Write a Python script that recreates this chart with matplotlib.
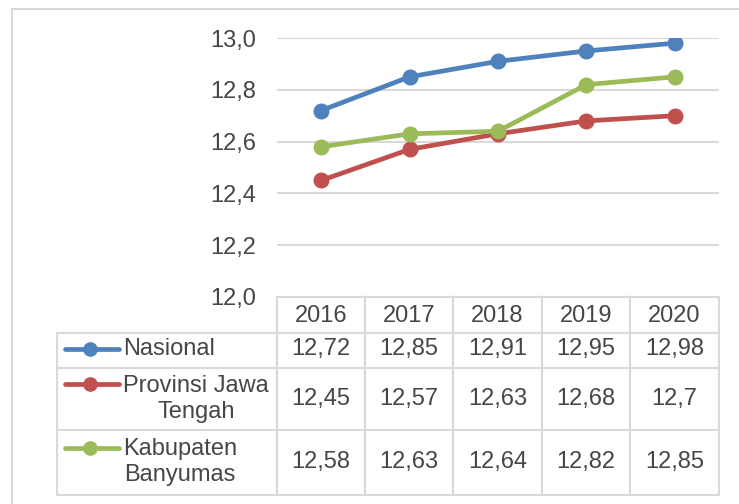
import matplotlib.pyplot as plt
from matplotlib.lines import Line2D

plt.rcParams['font.family'] = ['Liberation Sans', 'DejaVu Sans']

years = ['2016', '2017', '2018', '2019', '2020']
nasional = [12.72, 12.85, 12.91, 12.95, 12.98]
jateng = [12.45, 12.57, 12.63, 12.68, 12.7]
banyumas = [12.58, 12.63, 12.64, 12.82, 12.85]
series_names = ['Nasional', 'Provinsi Jawa\nTengah', 'Kabupaten\nBanyumas']
colors = ['#4f81bd', '#c0504d', '#9bbb59']
yticks = [12.0, 12.2, 12.4, 12.6, 12.8, 13.0]

W, H = 739, 504
txt = '#464646'
grid = '#d9d9d9'
fs = 17

fig = plt.figure(figsize=(W / 100, H / 100), dpi=100)


def fx(px):
    return px / W


def fy(py):
    return 1 - py / H


# outer chart border (partly cropped)
fig.add_artist(Line2D([fx(12), fx(12)], [fy(9), 0], color=grid, lw=1.5))
fig.add_artist(Line2D([fx(12), 1], [fy(9), fy(9)], color=grid, lw=1.5))

# plot area
x0, x1, ytop, ybot = 277, 719, 38, 297
ax = fig.add_axes([fx(x0), fy(ybot), fx(x1 - x0), (ybot - ytop) / H])
xs = list(range(len(years)))
for vals, c in zip([nasional, jateng, banyumas], colors):
    ax.plot(xs, vals, color=c, lw=3.4, marker='o', ms=10.5, solid_capstyle='round')
ax.set_xlim(-0.5, len(years) - 0.5)
ax.set_ylim(12.0, 13.0)
ax.set_yticks(yticks)
ax.set_yticklabels([f'{v:.1f}'.replace('.', ',') for v in yticks], color=txt, fontsize=fs)
ax.tick_params(axis='y', length=0, pad=15)
ax.set_xticks([])
ax.grid(axis='y', color=grid, lw=1.5)
ax.set_axisbelow(True)
for s in ax.spines.values():
    s.set_visible(False)
ax.patch.set_alpha(0)

# data table
cols = [277, 365, 453, 542, 630, 719]
rows = [297, 333, 368, 430, 495]
tl = 57
lkw = dict(color=grid, lw=1.5)
fig.add_artist(Line2D([fx(cols[0]), fx(cols[-1])], [fy(rows[0])] * 2, **lkw))
for r in rows[1:]:
    fig.add_artist(Line2D([fx(tl), fx(cols[-1])], [fy(r)] * 2, **lkw))
for c in cols:
    fig.add_artist(Line2D([fx(c)] * 2, [fy(rows[0]), fy(rows[-1])], **lkw))
fig.add_artist(Line2D([fx(tl)] * 2, [fy(rows[1]), fy(rows[-1])], **lkw))

for i, y in enumerate(years):
    cx = (cols[i] + cols[i + 1]) / 2
    fig.text(fx(cx), fy(316), y, ha='center', va='center', color=txt, fontsize=fs)

text_y = [349, 399, 462]
key_y = [349, 384, 448]
for j, (name, vals, c) in enumerate(zip(series_names, [nasional, jateng, banyumas], colors)):
    cy = text_y[j]
    ky = key_y[j]
    fig.add_artist(Line2D([fx(65), fx(119)], [fy(ky)] * 2, color=c, lw=3.4,
                          solid_capstyle='round'))
    fig.add_artist(Line2D([fx(90)], [fy(ky)], color=c, marker='o', ms=9.5, lw=0))
    fig.text(fx(123), fy(cy), name, ha='left', va='center', multialignment='center',
             color=txt, fontsize=fs, linespacing=1.22)
    for i, v in enumerate(vals):
        cx = (cols[i] + cols[i + 1]) / 2
        fig.text(fx(cx), fy(cy), f'{v:g}'.replace('.', ','), ha='center', va='center',
                 color=txt, fontsize=fs)

fig.savefig('out.png', dpi=100)
